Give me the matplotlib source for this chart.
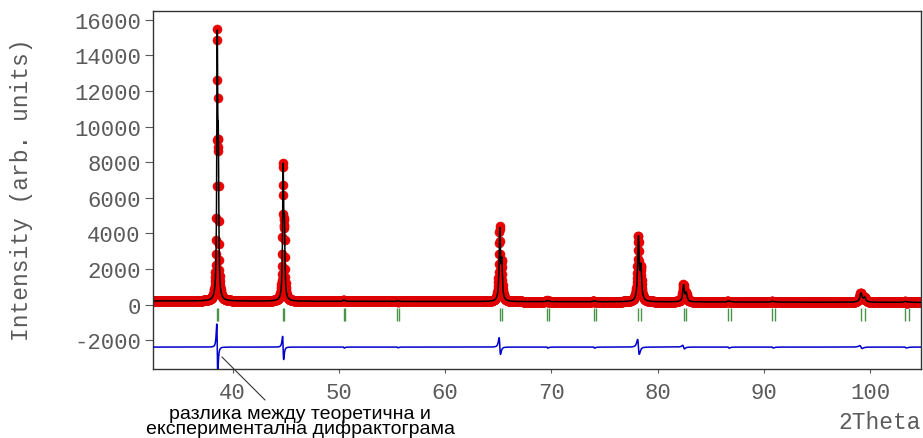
import numpy as np
import matplotlib.pyplot as plt

plt.rcParams["axes.unicode_minus"] = False

refl_ka1 = [38.55, 44.75, 50.45, 55.50, 65.15, 69.60, 74.00, 78.20, 82.45, 86.65, 90.80, 99.15, 103.30]
refl_ka2 = [38.65, 44.87, 50.58, 55.65, 65.33, 69.80, 74.21, 78.43, 82.70, 86.92, 91.09, 99.49, 103.66]
# peak heights (K-alpha1 part) and widths
peak_height = [14100, 7250, 70, 40, 3950, 60, 50, 3500, 920, 60, 45, 500, 50]
peak_fwhm = [0.10, 0.11, 0.12, 0.12, 0.14, 0.15, 0.16, 0.17, 0.18, 0.19, 0.20, 0.24, 0.26]
ka2_ratio = 0.5
# size of the misfit spikes in the difference curve (up / down)
diff_up = [1300, 600, 0, 0, 530, 0, 0, 430, 100, 0, 0, 80, 0]
diff_down = [1500, 700, 60, 40, 410, 60, 60, 410, 100, 60, 50, 80, 50]
bg_left, bg_right = 210, 130
diff_offset = -2380

two_theta = np.arange(32.5, 104.8, 0.02)


def lorentz(x, c, w):
    return 1.0 / (1.0 + (2.0 * (x - c) / w) ** 2)


def lorentz_slope(x, c, w):
    u = 2.0 * (x - c) / w
    return -u / (1.0 + u ** 2) ** 2 / 0.3248


# calculated pattern
calc = bg_left + (bg_right - bg_left) * (two_theta - two_theta[0]) / (two_theta[-1] - two_theta[0])
diff = np.zeros_like(two_theta)
for c1, c2, h, w, up, dn in zip(refl_ka1, refl_ka2, peak_height, peak_fwhm, diff_up, diff_down):
    calc = calc + h * (lorentz(two_theta, c1, w) + ka2_ratio * lorentz(two_theta, c2, w))
    s = lorentz_slope(two_theta, c1, w * 1.6)
    diff = diff + up * np.clip(s, 0, None) + dn * np.clip(s, None, 0)
obs = calc + diff

fig = plt.figure(figsize=(9.23, 4.39), dpi=100)
ax = fig.add_axes([0.1654, 0.1572, 0.8321, 0.8148])

ax.plot(two_theta, obs, "o", ms=6.5, color="#ee0000", mec="#dd0000", mew=0.4, zorder=1)
ax.plot(two_theta, calc, color="black", lw=1.1, zorder=2)
ax.vlines(refl_ka1, -900, -200, color="#4a944a", lw=1.0, zorder=2)
ax.vlines(refl_ka2, -900, -200, color="#4a944a", lw=1.0, zorder=2)
ax.plot(two_theta, diff + diff_offset, color="#0000cc", lw=1.1, zorder=3)

ax.set_xlim(32.47, 104.77)
ax.set_ylim(-3610, 16470)
ax.set_xticks([40, 50, 60, 70, 80, 90, 100])
ax.set_yticks(range(-2000, 16001, 2000))

mono = "Liberation Mono"
grey = "#5a5a5a"
for lab in ax.get_xticklabels() + ax.get_yticklabels():
    lab.set_fontfamily(mono)
    lab.set_fontsize(16)
    lab.set_color(grey)
ax.tick_params(axis="x", length=3, pad=6.5, color=grey)
ax.tick_params(axis="y", length=6, pad=2.5, color=grey)
for sp in ax.spines.values():
    sp.set_color("#333333")
    sp.set_linewidth(1.0)

fig.text(22 / 923, 1 - 190 / 439, "Intensity (arb. units)", rotation=90, ha="center", va="center",
         family=mono, fontsize=16.5, color=grey)
fig.text(921 / 923, 1 - 423 / 439, "2Theta", ha="right", va="center",
         family=mono, fontsize=16.5, color=grey)

# annotation for the difference curve
ax.annotate("", xy=(38.99, -2937), xytext=(265 / 923, 1 - 401 / 439), textcoords="figure fraction",
            arrowprops=dict(arrowstyle="-", color="#333333", lw=0.8, shrinkA=0, shrinkB=0),
            annotation_clip=False)
fig.text(300 / 923, 1 - 434 / 439, "разлика между теоретична и\nекспериментална дифрактограма",
         ha="center", va="baseline", multialignment="center", linespacing=0.8,
         family="Liberation Sans", fontsize=14, color="black")

fig.savefig("out.png", dpi=100)
